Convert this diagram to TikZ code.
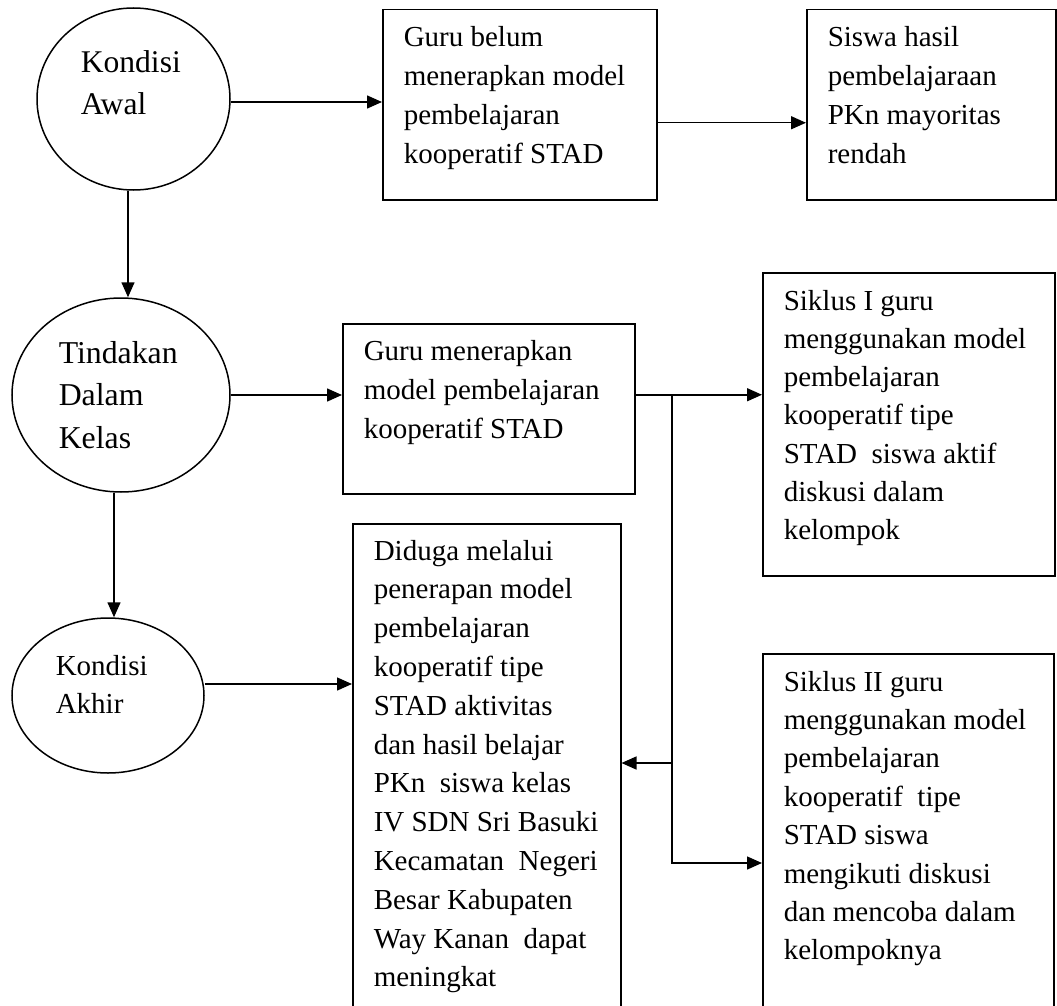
\documentclass[tikz,border=0pt]{standalone}
\usepackage{fontspec}
\setmainfont{Liberation Serif}
\usetikzlibrary{shapes.geometric,arrows.meta}
\newcommand\txtlines[2]{\vtop{\baselineskip=#1\lineskip=0pt\lineskiplimit=-100pt\halign{##\hfil\cr#2\crcr}}}
\begin{document}
\begin{tikzpicture}[x=1pt,y=-1pt,line width=1.5pt,
  box/.style={draw,rectangle,inner sep=0pt,anchor=north west},
  oval/.style={draw,ellipse,inner sep=0pt},
  txt/.style={inner sep=0pt,anchor=base west,font=\fontsize{29}{38.8}\selectfont},
  bigtxt/.style={inner sep=0pt,anchor=base west,font=\fontsize{31.6}{42}\selectfont},
  arr/.style={-{Triangle[length=15pt,width=13pt]}}]
\useasboundingbox (0,0) rectangle (1057,1006);
\clip (0,0) rectangle (1057,1006);
% ellipses
\node[oval,minimum width=193pt,minimum height=182pt] (e1) at (133.5,99) {};
\node[oval,minimum width=218pt,minimum height=194pt] (e2) at (121,395) {};
\node[oval,minimum width=192pt,minimum height=155pt] (e3) at (108,695.5) {};
% boxes
\node[box,minimum width=274pt,minimum height=190pt] (b1) at (382,9) {};
\node[box,minimum width=249pt,minimum height=190pt] (b2) at (806,9) {};
\node[box,minimum width=292pt,minimum height=170pt] (b3) at (342,323) {};
\node[box,minimum width=292pt,minimum height=303pt] (b4) at (762,272) {};
\node[box,minimum width=268pt,minimum height=500pt] (b6) at (352,523) {};
\node[box,minimum width=291pt,minimum height=400pt] (b5) at (762,653) {};
% ellipse texts
\node[bigtxt] (t1) at (80,73) {\txtlines{42pt}{Kondisi\cr Awal}};
\node[bigtxt,font=\fontsize{31.8}{42.5}\selectfont] (t2) at (58,363) {\txtlines{42.5pt}{Tindakan\cr Dalam\cr Kelas}};
\node[txt] (t3) at (55,675) {\txtlines{38pt}{Kondisi\cr Akhir}};
% box texts
\node[txt] (tb1) at (403,47) {\txtlines{38.8pt}{Guru belum\cr menerapkan model\cr pembelajaran\cr kooperatif STAD}};
\node[txt] (tb2) at (827,47) {\txtlines{38.8pt}{Siswa hasil\cr pembelajaraan\cr PKn mayoritas\cr rendah}};
\node[txt] (tb3) at (363,360) {\txtlines{39pt}{Guru menerapkan\cr model pembelajaran\cr kooperatif STAD}};
\node[txt] (tb4) at (783,310) {\txtlines{38.3pt}{Siklus I guru\cr menggunakan model\cr pembelajaran\cr kooperatif tipe\cr STAD~ siswa aktif\cr diskusi dalam\cr kelompok}};
\node[txt] (tb6) at (373,560) {\txtlines{38.8pt}{Diduga melalui\cr penerapan model\cr pembelajaran\cr kooperatif tipe\cr STAD aktivitas\cr dan hasil belajar\cr PKn~ siswa kelas\cr IV SDN Sri Basuki\cr Kecamatan~ Negeri\cr Besar Kabupaten\cr Way Kanan~ dapat\cr meningkat}};
\node[txt] (tb5) at (783,691) {\txtlines{38.4pt}{Siklus II guru\cr menggunakan model\cr pembelajaran\cr kooperatif~ tipe\cr STAD siswa\cr mengikuti diskusi\cr dan mencoba dalam\cr kelompoknya}};
% connectors
\draw[arr] ([yshift=-3pt]e1.east) -- ([yshift=-3pt]e1.east -| b1.west);
\draw[arr] ([yshift=-18pt]b1.east) -- ([yshift=-18pt]b1.east -| b2.west);
\draw[arr] ([xshift=-5.5pt]e1.south) -- ([xshift=-5.5pt]e1.south |- e2.north);
\draw[arr] (e2.east) -- (e2.east -| b3.west);
\draw[arr] ([yshift=14pt]b3.east) -- ([yshift=14pt]b3.east -| b4.west);
\coordinate (j1) at (672,394);
\coordinate (j2) at (672,763);
\coordinate (j3) at (672,863);
\draw (j1) -- (j2);
\draw[arr] (j2) -- (j2 -| b6.east);
\draw[arr] (j2) -- (j3) -- (j3 -| b5.west);
\draw[arr] ([xshift=-7pt]e2.south) -- ([xshift=-7pt]e2.south |- e3.north);
\draw[arr] ([yshift=11.5pt]e3.east) -- ([yshift=11.5pt]e3.east -| b6.west);
\end{tikzpicture}
\end{document}
